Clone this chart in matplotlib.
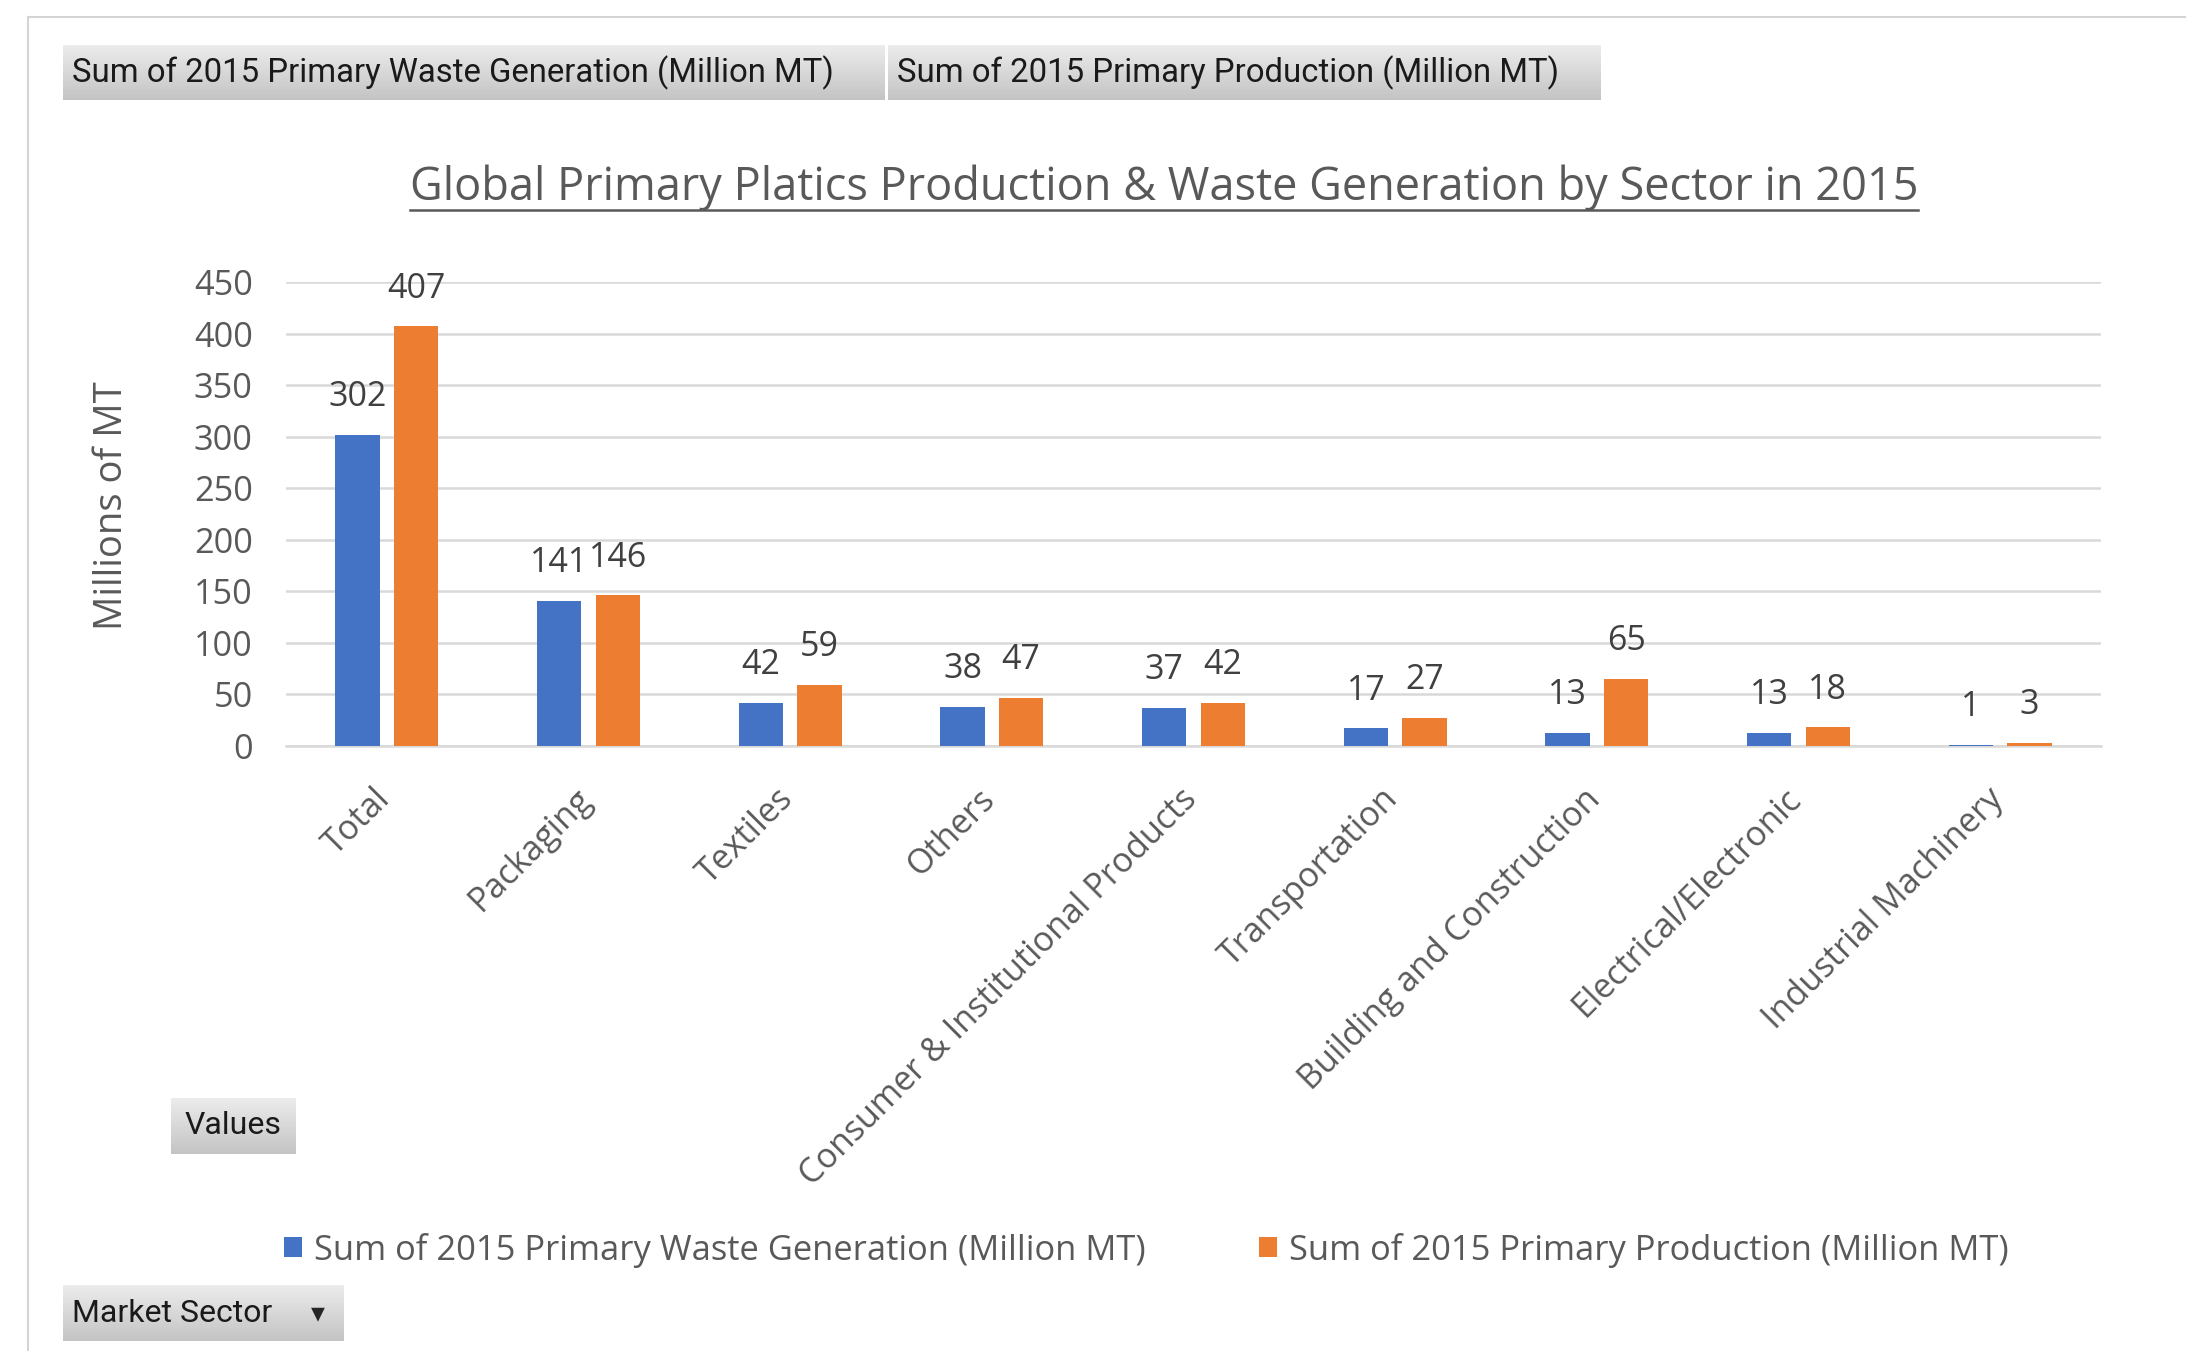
import numpy as np
import matplotlib
matplotlib.use("Agg")
import matplotlib.pyplot as plt
from matplotlib.colors import LinearSegmentedColormap
from matplotlib.lines import Line2D
from matplotlib.transforms import ScaledTranslation

# ---------------- data ----------------
categories = ["Total", "Packaging", "Textiles", "Others",
              "Consumer & Institutional Products", "Transportation",
              "Building and Construction", "Electrical/Electronic",
              "Industrial Machinery"]
waste = [302, 141, 42, 38, 37, 17, 13, 13, 1]
production = [407, 146, 59, 47, 42, 27, 65, 18, 3]
series_names = ["Sum of 2015 Primary Waste Generation (Million MT)",
                "Sum of 2015 Primary Production (Million MT)"]
title = "Global Primary Platics Production & Waste Generation by Sector in 2015"
ylabel = "Millions of MT"
yticks = list(range(0, 451, 50))

# ---------------- style ----------------
W, H = 2186, 1351
BLUE = "#4472C4"
ORANGE = "#ED7D31"
GRID = "#d9d9d9"
TXT = "#595959"
MAIN = ["Open Sans", "DejaVu Sans"]
NARROW = ["Roboto", "DejaVu Sans"]
plt.rcParams["font.family"] = MAIN

fig = plt.figure(figsize=(W / 100, H / 100), dpi=100)
fig.patch.set_facecolor("white")

def fx(px):
    return px / W

def fy(py):
    return 1 - py / H

# outer frame lines
fig.add_artist(Line2D([fx(28), 1.0], [fy(17), fy(17)], color="#d4d4d4", lw=1.5,
                      transform=fig.transFigure))
fig.add_artist(Line2D([fx(28), fx(28)], [fy(17), 0.0], color="#d4d4d4", lw=1.5,
                      transform=fig.transFigure))

# ---------------- main axes ----------------
ax = fig.add_axes([fx(286), fy(746), fx(2101) - fx(286), fy(282) - fy(746)])
x = np.arange(len(categories))
bw = 0.22
off = 0.145
b1 = ax.bar(x - off, waste, bw, color=BLUE, zorder=3, label=series_names[0])
b2 = ax.bar(x + off, production, bw, color=ORANGE, zorder=3, label=series_names[1])

for bars, vals in ((b1, waste), (b2, production)):
    for rect, v in zip(bars, vals):
        ax.annotate(f"{v}", (rect.get_x() + rect.get_width() / 2, rect.get_height()),
                    xytext=(0, 15), textcoords="offset points", ha="center", va="bottom",
                    fontsize=24.5, color="#404040", zorder=4)

ax.set_xlim(-0.5, len(categories) - 0.5)
ax.set_ylim(0, 450)
ax.set_yticks(yticks)
ax.yaxis.grid(True, color=GRID, lw=1.8)
ax.set_axisbelow(True)
for s in ("top", "right", "left"):
    ax.spines[s].set_visible(False)
ax.spines["bottom"].set_color(GRID)
ax.spines["bottom"].set_linewidth(1.8)
ax.tick_params(axis="y", length=0, pad=24, labelsize=24.7, labelcolor=TXT)
ax.tick_params(axis="x", length=0, pad=26, labelsize=24.5, labelcolor=TXT)
ax.set_xticks(x)
ax.set_xticklabels(categories, rotation=45, ha="right", va="top", rotation_mode="anchor")
shift = ScaledTranslation(-10 / 72, 0, fig.dpi_scale_trans)
for lab in ax.get_xticklabels():
    lab.set_transform(lab.get_transform() + shift)

fig.text(fx(112), fy(506), ylabel, rotation=90, ha="center", va="center",
         fontsize=27.5, color=TXT)

# title with underline
t = fig.text(fx(1164), fy(188), title, ha="center", va="center", fontsize=32.5, color=TXT)
fig.canvas.draw()
bb = t.get_window_extent(fig.canvas.get_renderer())
fig.add_artist(Line2D([bb.x0 / W, bb.x1 / W], [fy(210), fy(210)], color=TXT, lw=1.8,
                      transform=fig.transFigure))

# legend
ax.legend(handles=[b1, b2], labels=series_names, ncol=2, loc="center left",
          bbox_to_anchor=(fx(284), fy(1250)), bbox_transform=fig.transFigure,
          frameon=False, handlelength=0.52, handleheight=0.52, handletextpad=0.35,
          columnspacing=3.3, borderpad=0, borderaxespad=0, fontsize=24.8,
          labelcolor=TXT)

# ---------------- pivot buttons ----------------
cmap = LinearSegmentedColormap.from_list("btn", ["#ececec", "#c4c4c4"])

def button(x0, y0, x1, y1, text, align="left", tx=None, fs=23.7):
    bax = fig.add_axes([fx(x0), fy(y1), fx(x1) - fx(x0), fy(y0) - fy(y1)])
    grad = np.linspace(0, 1, 64).reshape(-1, 1)
    bax.imshow(grad, aspect="auto", cmap=cmap, extent=[0, 1, 0, 1])
    bax.set_axis_off()
    if align == "left":
        px = (tx - x0) / (x1 - x0)
        bax.text(px, 0.5, text, ha="left", va="center", fontsize=fs, color="#1a1a1a",
                 family=NARROW, transform=bax.transAxes)
    else:
        bax.text(0.5, 0.5, text, ha="center", va="center", fontsize=fs, color="#1a1a1a",
                 family=NARROW, transform=bax.transAxes)
    return bax

button(63, 45, 885, 100, series_names[0], tx=72)
button(888, 45, 1600, 100, series_names[1], tx=897)
button(171, 1098, 296, 1154, "Values", align="center", fs=23)
mb = button(63, 1285, 344, 1341, "Market Sector", tx=72, fs=23)
mb.text((318 - 63) / (344 - 63), 0.5, "\u25be", ha="center", va="center", fontsize=20,
        color="#262626", family=["DejaVu Sans"], transform=mb.transAxes)

fig.savefig("out.png", dpi=100)
